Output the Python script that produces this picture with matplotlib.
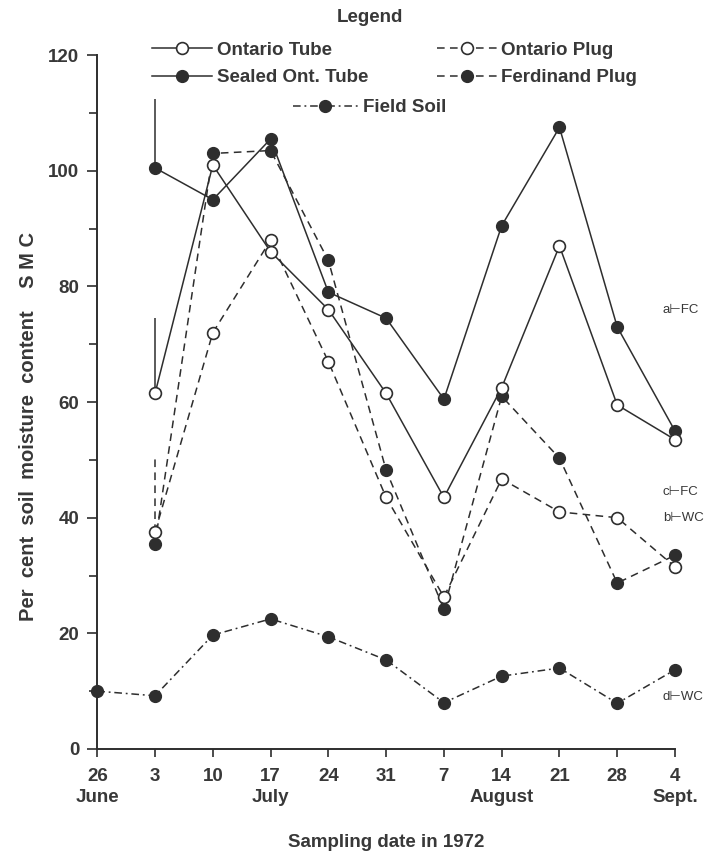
import matplotlib
matplotlib.use("Agg")
import numpy as np
import matplotlib.pyplot as plt

# sampling dates (weekly, 1972)
dates = ["26\nJune", "3", "10", "17\nJuly", "24", "31", "7",
         "14\nAugust", "21", "28", "4\nSept."]

# per cent soil moisture content, from 3 July on
ontario_tube = [61.5, 101, 86, 76, 61.5, 43.5, 62.5, 87, 59.5, 53.5]
sealed_tube = [100.5, 95, 105.5, 79, 74.5, 60.5, 90.5, 107.5, 73, 55]
ontario_plug = [37.5, 72, 88, 67, 43.5, 26.3, 46.7, 41, 40, 31.5]
ferdinand_plug = [35.5, 103, 103.5, 84.5, 48.2, 24.2, 61, 50.3, 28.7, 33.5]
# field soil, from 26 June on
field_soil = [10, 9.2, 19.7, 22.5, 19.4, 15.4, 8, 12.6, 14, 7.9, 13.7]

# vertical strokes above the 3 July points
stroke_tops_tube = 74.5
stroke_tops_sealed = 112.5
stroke_tops_plug = 50.5

# reference levels written at the right edge
ref_labels = ["a\u22a2FC", "c\u22a2FC", "b\u22a2WC", "d\u22a2WC"]
ref_values = [76, 44.5, 40, 9]

plt.rcParams['font.family'] = ['Liberation Sans', 'DejaVu Sans']
plt.rcParams['font.weight'] = 'bold'
plt.rcParams['axes.labelweight'] = 'bold'
ink = '#2e2e2e'
txt = '#383838'
fs = 13.5

fig = plt.figure(figsize=(7.1, 8.55), dpi=100)
ax = fig.add_axes([0.137, 0.124, 0.8137, 0.8115])

x_all = np.arange(len(dates))
x_pl = x_all[1:]

ms = 8.5
lw = 1.1
dash = (0, (5, 3.5))
dashdot = (0, (5, 2.5, 1.2, 2.5))

ax.vlines(x_pl[0], ontario_tube[0], stroke_tops_tube, color=ink, lw=lw)
ax.vlines(x_pl[0], sealed_tube[0], stroke_tops_sealed, color=ink, lw=lw)
ax.vlines(x_pl[0], ontario_plug[0], stroke_tops_plug, color=ink, lw=lw,
          linestyles=[dash])

ax.plot(x_all, field_soil, linestyle=dashdot, color=ink, lw=lw, marker='o',
        ms=ms, mfc=ink, mec=ink, clip_on=False, label='Field Soil')
ax.plot(x_pl, ferdinand_plug, linestyle=dash, color=ink, lw=lw, marker='o',
        ms=ms, mfc=ink, mec=ink, clip_on=False, label='Ferdinand Plug')
ax.plot(x_pl, ontario_plug, linestyle=dash, color=ink, lw=lw, marker='o',
        ms=ms, mfc='white', mec=ink, mew=1.2, clip_on=False,
        label='Ontario Plug')
ax.plot(x_pl, sealed_tube, linestyle='-', color=ink, lw=lw, marker='o',
        ms=ms, mfc=ink, mec=ink, clip_on=False, label='Sealed Ont. Tube')
ax.plot(x_pl, ontario_tube, linestyle='-', color=ink, lw=lw, marker='o',
        ms=ms, mfc='white', mec=ink, mew=1.2, clip_on=False,
        label='Ontario Tube')

for lab, v in zip(ref_labels, ref_values):
    ax.text(9.79, v, lab, fontsize=9.5, fontweight='normal', color=txt,
            va='center', ha='left', clip_on=False)

ax.set_xlim(0, 10)
ax.set_ylim(0, 120)
ax.set_xticks(x_all)
ax.set_xticklabels(dates, fontsize=fs, color=txt, linespacing=1.3)
ax.set_yticks(np.arange(0, 121, 20))
ax.set_yticks(np.arange(10, 120, 20), minor=True)
ax.tick_params(axis='y', labelsize=fs, colors=ink, labelcolor=txt,
               length=7, width=1.2, pad=6)
ax.tick_params(axis='y', which='minor', length=6, width=1.2, colors=ink)
ax.tick_params(axis='x', colors=ink, labelcolor=txt, length=6, width=1.2,
               pad=8)
for side in ['top', 'right']:
    ax.spines[side].set_visible(False)
for side in ['left', 'bottom']:
    ax.spines[side].set_color(ink)
    ax.spines[side].set_linewidth(1.4)

ax.set_ylabel("Per  cent  soil  moisture  content    S M C", fontsize=14.5,
              color=txt)
ax.yaxis.set_label_coords(-0.103, 0.465)
ax.set_xlabel("Sampling date in 1972", fontsize=fs, color=txt, labelpad=20)

# legend block above the plot
h = {l.get_label(): l for l in ax.get_lines()}
leg_kw = dict(frameon=False, fontsize=fs, handlelength=3.2,
              handletextpad=0.25, labelspacing=0.55, borderpad=0,
              borderaxespad=0, numpoints=1, labelcolor=txt)
leg1 = fig.legend([h['Ontario Tube'], h['Sealed Ont. Tube']],
                  ['Ontario Tube', 'Sealed Ont. Tube'],
                  loc='upper left', bbox_to_anchor=(0.214, 0.951), **leg_kw)
leg2 = fig.legend([h['Ontario Plug'], h['Ferdinand Plug']],
                  ['Ontario Plug', 'Ferdinand Plug'],
                  loc='upper left', bbox_to_anchor=(0.615, 0.951), **leg_kw)
leg3 = fig.legend([h['Field Soil']], ['Field Soil'],
                  loc='upper left', bbox_to_anchor=(0.412, 0.884),
                  **dict(leg_kw, handlelength=3.5))
fig.text(0.521, 0.980, "Legend", fontsize=fs, color=txt, ha='center',
         va='center')

fig.savefig("out.png", dpi=100, facecolor='white')
